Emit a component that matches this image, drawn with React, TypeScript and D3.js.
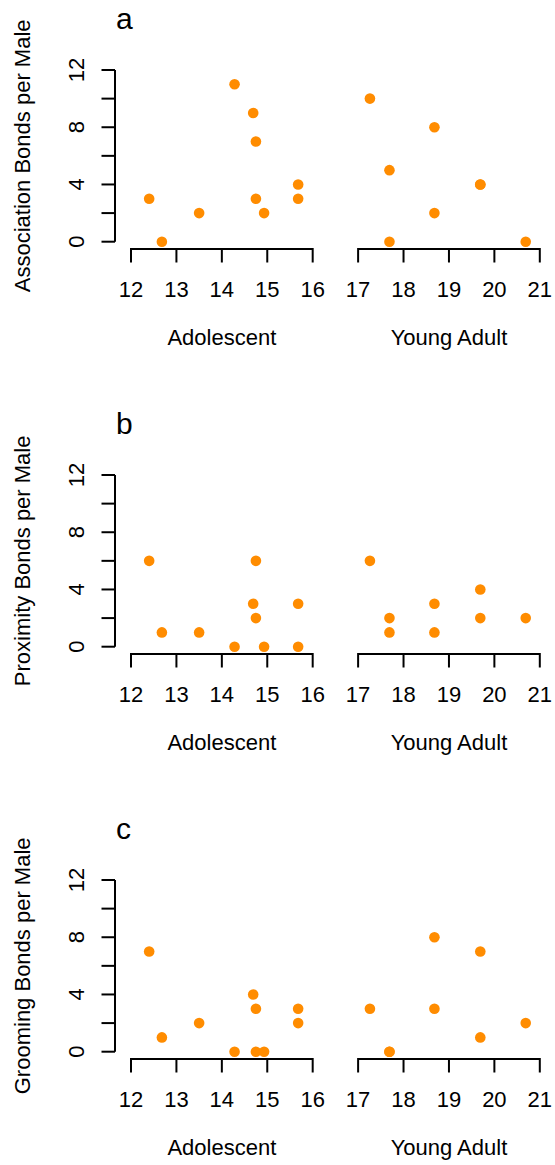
import { useEffect, useRef } from 'react'
import * as d3 from 'd3'

// ages (years) of the individual males
const adolescentAge = [12.4, 12.68, 13.5, 14.28, 14.69, 14.75, 14.75, 14.93, 15.68, 15.68]
const youngAdultAge = [17.26, 17.69, 17.69, 18.68, 18.68, 19.69, 19.69, 20.69]

// bonds per male, one list per panel and age class
const associationAdolescent = [3, 0, 2, 11, 9, 7, 3, 2, 4, 3]
const associationYoungAdult = [10, 5, 0, 8, 2, 4, 4, 0]
const proximityAdolescent = [6, 1, 1, 0, 3, 6, 2, 0, 3, 0]
const proximityYoungAdult = [6, 2, 1, 3, 1, 4, 2, 2]
const groomingAdolescent = [7, 1, 2, 0, 4, 3, 0, 0, 3, 2]
const groomingYoungAdult = [3, 0, 0, 8, 3, 7, 1, 2]

const panelLetters = ['a', 'b', 'c']
const yTitles = ['Association Bonds per Male', 'Proximity Bonds per Male', 'Grooming Bonds per Male']
const yTicks = [0, 2, 4, 6, 8, 10, 12]
const yTickLabels = [0, 4, 8, 12]
const adolescentTicks = [12, 13, 14, 15, 16]
const youngAdultTicks = [17, 18, 19, 20, 21]
const groupTitles = ['Adolescent', 'Young Adult']

const WIDTH = 555
const HEIGHT = 1165
const PANEL_H = 405
const FONT = '"Liberation Sans", Arial, Helvetica, sans-serif'
const DOT = '#FF8C00'

export default function App() {
  const svgRef = useRef<SVGSVGElement>(null)

  useEffect(() => {
    if (!svgRef.current) return
    const svg = d3.select(svgRef.current)
    svg.selectAll('*').remove()

    // x: one continuous age scale, axis drawn in two pieces
    const x = d3.scaleLinear().domain([12, 21]).range([131, 539.8])
    const y = d3.scaleLinear().domain([0, 12]).range([241.7, 70])
    const axisX = 115
    const axisY = 249
    const tick = 13.5

    const panels = [
      { adol: associationAdolescent, young: associationYoungAdult },
      { adol: proximityAdolescent, young: proximityYoungAdult },
      { adol: groomingAdolescent, young: groomingYoungAdult },
    ]

    panels.forEach((p, i) => {
      const g = svg.append('g').attr('transform', `translate(0,${i * PANEL_H})`)

      // panel letter
      g.append('text')
        .attr('x', 116)
        .attr('y', 28.5)
        .attr('font-size', 30)
        .attr('font-family', FONT)
        .attr('fill', '#000')
        .text(panelLetters[i])

      // y axis
      g.append('line')
        .attr('x1', axisX).attr('x2', axisX)
        .attr('y1', y(0)).attr('y2', y(12))
        .attr('stroke', '#000').attr('stroke-width', 2)
      g.selectAll('.ytick')
        .data(yTicks)
        .enter()
        .append('line')
        .attr('x1', axisX - tick).attr('x2', axisX)
        .attr('y1', d => y(d)).attr('y2', d => y(d))
        .attr('stroke', '#000').attr('stroke-width', 2)
      g.selectAll('.ylab')
        .data(yTickLabels)
        .enter()
        .append('text')
        .attr('transform', d => `translate(84,${y(d)}) rotate(-90)`)
        .attr('text-anchor', 'middle')
        .attr('font-size', 22)
        .attr('font-family', FONT)
        .attr('fill', '#000')
        .text(d => d)

      g.append('text')
        .attr('transform', `translate(30,${(y(-0.48) + y(12.48)) / 2}) rotate(-90)`)
        .attr('text-anchor', 'middle')
        .attr('font-size', 22)
        .attr('font-family', FONT)
        .attr('fill', '#000')
        .text(yTitles[i])

      // x axes (two segments)
      ;[adolescentTicks, youngAdultTicks].forEach((ticks, k) => {
        g.append('line')
          .attr('x1', x(ticks[0])).attr('x2', x(ticks[ticks.length - 1]))
          .attr('y1', axisY).attr('y2', axisY)
          .attr('stroke', '#000').attr('stroke-width', 2)
        g.selectAll(`.xtick${k}`)
          .data(ticks)
          .enter()
          .append('line')
          .attr('x1', d => x(d)).attr('x2', d => x(d))
          .attr('y1', axisY - 1).attr('y2', axisY + tick)
          .attr('stroke', '#000').attr('stroke-width', 2)
        g.selectAll(`.xlab${k}`)
          .data(ticks)
          .enter()
          .append('text')
          .attr('x', d => x(d))
          .attr('y', 297)
          .attr('text-anchor', 'middle')
          .attr('font-size', 22)
          .attr('font-family', FONT)
          .attr('fill', '#000')
          .text(d => d)
        g.append('text')
          .attr('x', x(d3.mean(ticks) as number))
          .attr('y', 345)
          .attr('text-anchor', 'middle')
          .attr('font-size', 22)
          .attr('font-family', FONT)
          .attr('fill', '#000')
          .text(groupTitles[k])
      })

      // points
      const pts = [
        ...adolescentAge.map((a, j) => ({ age: a, v: p.adol[j] })),
        ...youngAdultAge.map((a, j) => ({ age: a, v: p.young[j] })),
      ]
      g.selectAll('.pt')
        .data(pts)
        .enter()
        .append('circle')
        .attr('cx', d => x(d.age))
        .attr('cy', d => y(d.v))
        .attr('r', 5.3)
        .attr('fill', DOT)
    })
  }, [])

  return (
    <svg
      ref={svgRef}
      width={WIDTH}
      height={HEIGHT}
      style={{ position: 'absolute', left: 0, top: 0, background: '#fff' }}
    />
  )
}
